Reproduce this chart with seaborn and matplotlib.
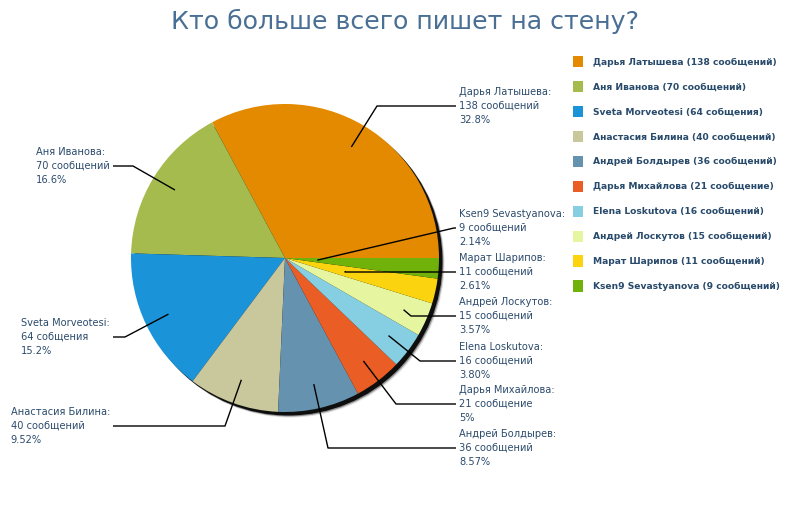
import matplotlib
matplotlib.use("Agg")
import matplotlib.pyplot as plt
import seaborn as sns
import numpy as np

sns.set_theme(style="white")
plt.rcParams["font.family"] = ["DejaVu Sans"]

# data
names = ["Дарья Латышева", "Аня Иванова", "Sveta Morveotesi", "Анастасия Билина",
         "Андрей Болдырев", "Дарья Михайлова", "Elena Loskutova", "Андрей Лоскутов",
         "Марат Шарипов", "Ksen9 Sevastyanova"]
counts = [138, 70, 64, 40, 36, 21, 16, 15, 11, 9]
words = ["сообщений", "сообщений", "собщения", "сообщений", "сообщений",
         "сообщение", "сообщений", "сообщений", "сообщений", "сообщений"]
pct_labels = ["32.8%", "16.6%", "15.2%", "9.52%", "8.57%", "5%", "3.80%", "3.57%", "2.61%", "2.14%"]
colors = ["#e38a00", "#a6bb4e", "#1b93d8", "#c9c79c", "#6592ae",
          "#ea5d24", "#86cfe2", "#e5f5a0", "#fbd30f", "#70b10a"]

H = 520
CX, CY, R = 285, 258, 154


def Y(y):
    return H - y


# label layout (image pixels): text x, middle-line y, elbow, point radius fraction, side
layout = [
    (459, 106, (377, 106), 0.84, "r"),
    (110, 166, (133, 166), 0.84, "l"),
    (110, 337, (125, 337), 0.84, "l"),
    (110, 426, (225, 426), 0.84, "l"),
    (459, 448, (328, 448), 0.84, "r"),
    (459, 404, (396, 404), 0.84, "r"),
    (459, 361, (420, 361), 0.84, "r"),
    (459, 316, (411, 316), 0.84, "r"),
    (459, 272, (345, 272), 0.40, "r"),
    (459, 228, (454, 228), 0.21, "r"),
]

fig = plt.figure(figsize=(8, 5.2), dpi=100)
ax = fig.add_axes([0, 0, 1, 1])

# shadow behind the pie
for off, a in [(5.5, 0.12), (4.5, 0.35), (3.5, 0.9)]:
    ax.add_patch(plt.Circle((CX + off, Y(CY) - off), R, color="black", alpha=a, lw=0, zorder=1))

wedges, _ = ax.pie(counts, colors=sns.color_palette(colors), startangle=0, counterclock=True,
                   center=(CX, Y(CY)), radius=R, wedgeprops=dict(linewidth=0))
for w in wedges:
    w.set_zorder(2)

text_color = "#2c4b6c"
for i, w in enumerate(wedges):
    tx, ty, (ex, ey), rf, side = layout[i]
    ang = np.deg2rad((w.theta1 + w.theta2) / 2)
    px = CX + rf * R * np.cos(ang)
    py = Y(CY) + rf * R * np.sin(ang)
    end_x = tx - 3 if side == "r" else tx + 3
    ax.plot([px, ex, end_x], [py, Y(ey), Y(ty)], color="black", lw=1, zorder=3,
            solid_capstyle="butt")
    txt = f"{names[i]}:\n{counts[i]} {words[i]}\n{pct_labels[i]}"
    ax.text(tx, Y(ty), txt, ha="left" if side == "r" else "right", va="center",
            multialignment="left", fontsize=7.1, color=text_color, zorder=4, linespacing=1.5)

legend_labels = [f"{n} ({c} {w})" for n, c, w in zip(names, counts, words)]
leg = ax.legend(wedges, legend_labels, loc="upper left", bbox_to_anchor=(573 / 800, 1 - 56 / H),
                frameon=False, borderpad=0, borderaxespad=0, handlelength=1.1, handleheight=1.5,
                handletextpad=1.05, labelspacing=1.5, prop=dict(size=6.6, weight="bold"))
for t in leg.get_texts():
    t.set_color("#284a6b")

ax.text(405, Y(21), "Кто больше всего пишет на стену?", ha="center", va="center",
        fontsize=18.2, color="#4a6f94")

ax.set_xlim(0, 800)
ax.set_ylim(0, H)
ax.set_aspect("auto")
ax.axis("off")

fig.savefig("out.png", dpi=100, facecolor="white")
